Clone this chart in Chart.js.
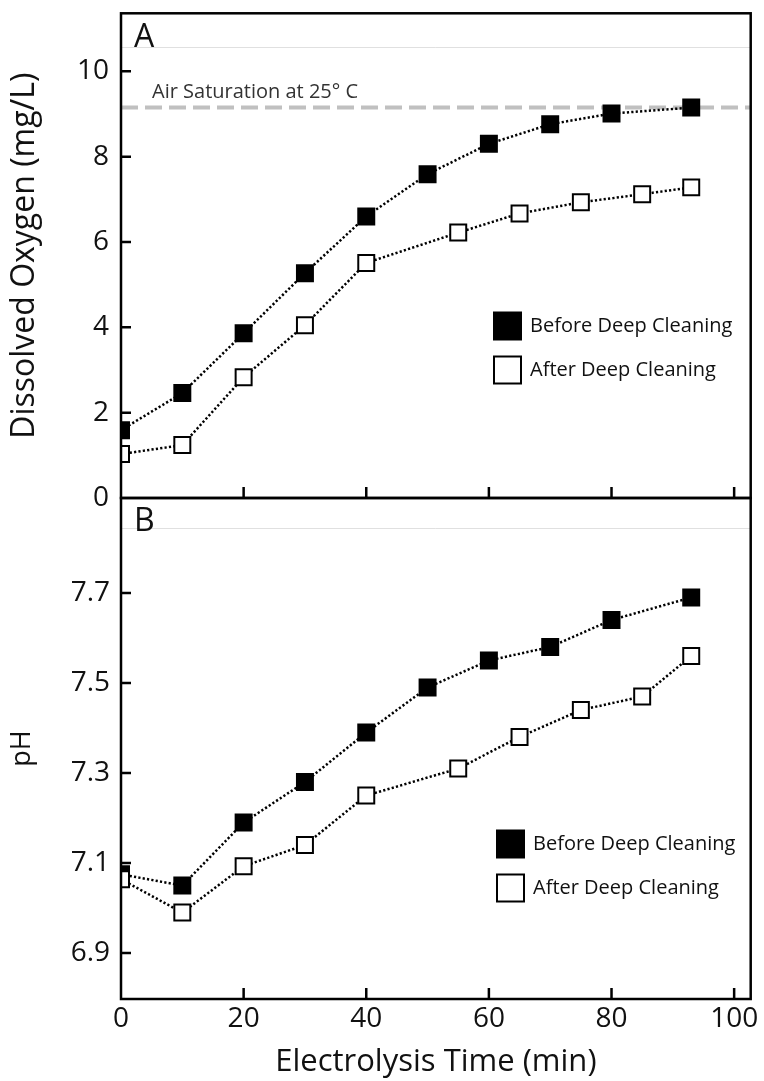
<!DOCTYPE html>
<html>
<head>
<meta charset="utf-8">
<script src="https://cdn.jsdelivr.net/npm/chart.js@4.4.1/dist/chart.umd.min.js"></script>
<style>
html, body { margin: 0; padding: 0; background: #fff; }
#wrap { position: relative; width: 764px; height: 1081px; }
#boxA { position: absolute; left: 0; top: 0; width: 764px; height: 520px; }
#boxB { position: absolute; left: 0; top: 470px; width: 764px; height: 611px; }
</style>
</head>
<body>
<div id="wrap">
  <div id="boxA"><canvas id="doChart"></canvas></div>
  <div id="boxB"><canvas id="phChart"></canvas></div>
</div>
<script>
// values
var seriesNames = ['Before Deep Cleaning', 'After Deep Cleaning']
var timeBefore = [0, 10, 20, 30, 40, 50, 60, 70, 80, 93]
var timeAfter = [0, 10, 20, 30, 40, 55, 65, 75, 85, 93]
var doBefore = [1.59, 2.46, 3.86, 5.27, 6.6, 7.59, 8.3, 8.76, 9.01, 9.15]
var doAfter = [1.03, 1.24, 2.83, 4.05, 5.51, 6.22, 6.67, 6.93, 7.12, 7.28]
var phBefore = [7.075, 7.05, 7.19, 7.28, 7.39, 7.49, 7.55, 7.58, 7.64, 7.69]
var phAfter = [7.064, 6.99, 7.093, 7.14, 7.25, 7.31, 7.38, 7.44, 7.47, 7.56]
var airSaturation = 9.15
var airLabel = 'Air Saturation at 25\u00b0 C'
var timeTicks = [0, 20, 40, 60, 80, 100]
var doTicks = [0, 2, 4, 6, 8, 10]
var phTicks = [6.9, 7.1, 7.3, 7.5, 7.7]

var FONT = "'Open Sans', 'Noto Sans', sans-serif"
var INK = '#111111'

function pts(xs, ys) {
    return xs.map(function (x, i) { return { x: x, y: ys[i] } })
}

function setTicks(list) {
    return function (scale) {
        scale.ticks = list.map(function (v) { return { value: v } })
    }
}

// dataset for one series; index 0 = filled, 1 = open
function series(i, data) {
    return {
        label: seriesNames[i],
        data: data,
        order: i == 0 ? 2 : 1,
        borderColor: '#000',
        borderWidth: 2.5,
        borderDash: [2.2, 2.2],
        pointStyle: 'rect',
        pointRadius: 11.3,
        pointHoverRadius: 11.3,
        pointBorderWidth: 2,
        pointBorderColor: '#000',
        pointBackgroundColor: i == 0 ? '#000' : '#fff',
        backgroundColor: i == 0 ? '#000' : '#fff',
        clip: 0,
        inLegend: true
    }
}

// frame, inward ticks, panel letter and legend
var panelPlugin = {
    id: 'panel',
    afterDatasetsDraw: function (chart, args, opts) {
        var ctx = chart.ctx, a = chart.chartArea
        var xs = chart.scales.x, ys = chart.scales.y
        ctx.save()
        ctx.strokeStyle = '#e0e0e0'
        ctx.lineWidth = 1
        ctx.beginPath()
        ctx.moveTo(a.left, Math.round(a.top + opts.faintLine) + 0.5)
        ctx.lineTo(a.right, Math.round(a.top + opts.faintLine) + 0.5)
        ctx.stroke()

        ctx.strokeStyle = '#000'
        ctx.lineWidth = 2.5
        ctx.beginPath()
        ys.ticks.forEach(function (t) {
            var y = ys.getPixelForValue(t.value)
            if (y > a.top + 3 && y < a.bottom - 3) {
                ctx.moveTo(a.left, y)
                ctx.lineTo(a.left + 10, y)
            }
        })
        xs.ticks.forEach(function (t) {
            var x = xs.getPixelForValue(t.value)
            if (x > a.left + 3 && x < a.right - 3) {
                ctx.moveTo(x, a.bottom)
                ctx.lineTo(x, a.bottom - 11)
            }
        })
        ctx.stroke()
        ctx.lineWidth = 2.5
        ctx.strokeRect(a.left, a.top, a.right - a.left, a.bottom - a.top)

        ctx.fillStyle = INK
        ctx.font = '32px ' + FONT
        ctx.textBaseline = 'middle'
        ctx.textAlign = 'left'
        ctx.fillText(opts.letter, a.left + 13, a.top + opts.letterY)

        if (opts.note) {
            ctx.fillStyle = '#333'
            ctx.font = '20px ' + FONT
            ctx.fillText(opts.note, a.left + 31, ys.getPixelForValue(airSaturation) - 15)
        }

        // legend
        var k = 0
        ctx.font = '20px ' + FONT
        chart.data.datasets.forEach(function (ds) {
            if (!ds.inLegend) return
            var cy = a.bottom - opts.legendBottom + k * 44
            ctx.fillStyle = ds.pointBackgroundColor
            ctx.fillRect(opts.legendX, cy - 13.5, 27, 27)
            ctx.lineWidth = 2
            ctx.strokeStyle = '#000'
            ctx.strokeRect(opts.legendX, cy - 13.5, 27, 27)
            ctx.fillStyle = INK
            ctx.fillText(ds.label, opts.legendX + 36, cy)
            k++
        })
        ctx.restore()
    }
}

function baseOptions(pad, xHeight, showX) {
    return {
        responsive: true,
        maintainAspectRatio: false,
        animation: false,
        layout: { padding: pad },
        plugins: { legend: { display: false }, tooltip: { enabled: false } },
        scales: {
            x: {
                type: 'linear',
                min: 0,
                max: 102.7,
                afterBuildTicks: setTicks(timeTicks),
                afterFit: function (s) { s.height = xHeight },
                grid: { display: false, drawTicks: false },
                border: { display: false },
                ticks: { display: showX, autoSkip: false, padding: 3, color: INK, font: { family: FONT, size: 28 } },
                title: { display: showX, text: 'Electrolysis Time (min)', color: INK, font: { family: FONT, size: 31 }, padding: { top: 0, bottom: 0 } }
            },
            y: {
                afterFit: function (s) {
                    s.width = 121
                    s.paddingTop = 0
                    s.paddingBottom = 0
                },
                grid: { display: false, drawTicks: false },
                border: { display: false },
                ticks: { autoSkip: false, padding: 12, color: INK, font: { family: FONT, size: 28 } },
                title: { display: true, color: INK, font: { family: FONT, size: 32 }, padding: { top: 6, bottom: 0 } }
            }
        }
    }
}

// panel A: dissolved oxygen
var optA = baseOptions({ top: 13, right: 12, left: 0, bottom: 0 }, 22, false)
optA.scales.y.min = 0
optA.scales.y.max = 11.36
optA.scales.y.afterBuildTicks = setTicks(doTicks)
optA.scales.y.title.text = 'Dissolved Oxygen (mg/L)'
optA.plugins.panel = { letter: 'A', letterY: 25, faintLine: 34, note: airLabel, legendX: 494, legendBottom: 172 }

new Chart(document.getElementById('doChart'), {
    type: 'line',
    data: {
        datasets: [
            series(0, pts(timeBefore, doBefore)),
            series(1, pts(timeAfter, doAfter)),
            {
                label: 'air',
                data: [{ x: 0, y: airSaturation }, { x: 102.7, y: airSaturation }],
                order: 5,
                borderColor: '#c0c0c0',
                borderWidth: 4,
                borderDash: [17, 7],
                pointRadius: 0,
                clip: 0
            }
        ]
    },
    options: optA,
    plugins: [panelPlugin]
})

// panel B: pH
var optB = baseOptions({ top: 28, right: 12, left: 0, bottom: 0 }, 82, true)
optB.scales.y.min = 6.798
optB.scales.y.max = 7.911
optB.scales.y.afterBuildTicks = setTicks(phTicks)
optB.scales.y.ticks.padding = 11
optB.scales.y.title.text = 'pH'
optB.scales.y.title.font = { family: FONT, size: 27 }
optB.scales.y.title.padding = { top: 6, bottom: 0 }
optB.plugins.panel = { letter: 'B', letterY: 24, faintLine: 30, note: null, legendX: 497, legendBottom: 155 }

new Chart(document.getElementById('phChart'), {
    type: 'line',
    data: {
        datasets: [
            series(0, pts(timeBefore, phBefore)),
            series(1, pts(timeAfter, phAfter))
        ]
    },
    options: optB,
    plugins: [panelPlugin]
})
</script>
</body>
</html>
